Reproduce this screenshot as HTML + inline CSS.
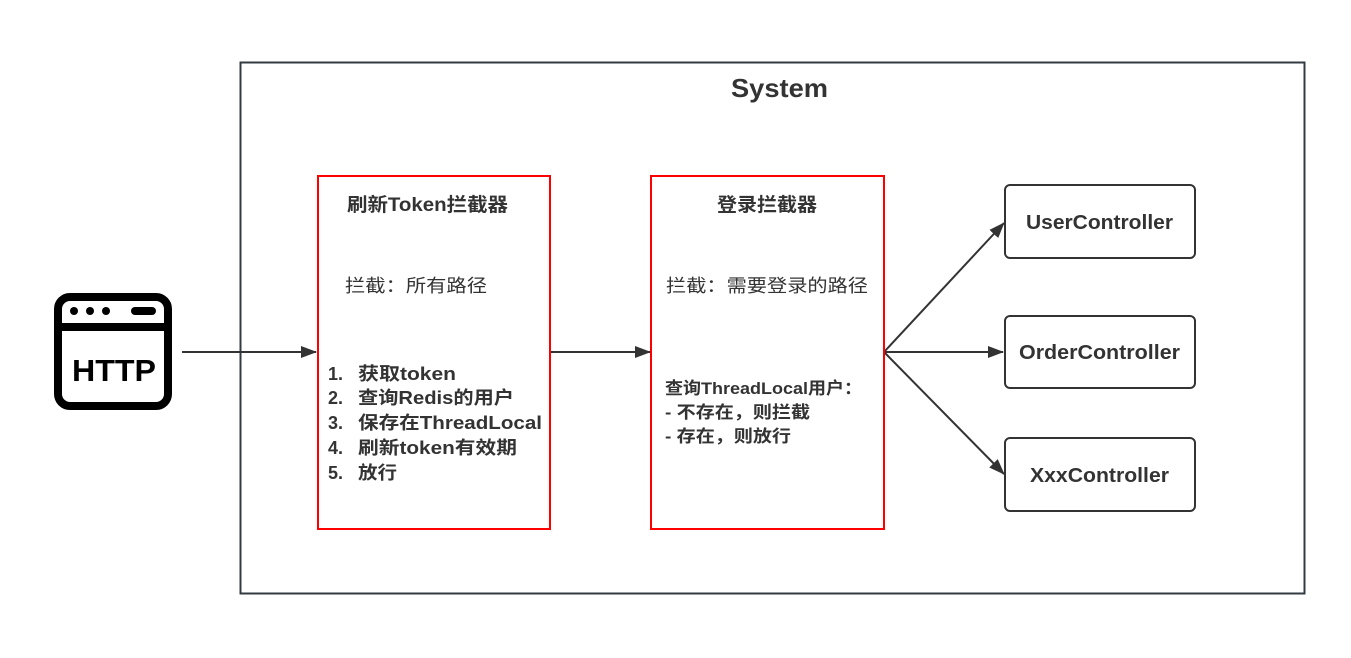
<!DOCTYPE html>
<html><head><meta charset="utf-8"><style>
html,body{margin:0;padding:0;background:#fff;}
svg{display:block;font-family:"Liberation Sans","Noto Sans CJK SC",sans-serif;}
</style></head><body>
<svg width="1351" height="658" viewBox="0 0 1351 658" xmlns="http://www.w3.org/2000/svg">
<defs>
<marker id="b" markerWidth="16" markerHeight="12" refX="15" refY="6" orient="auto" markerUnits="userSpaceOnUse"><path d="M0,0 L16,6 L0,12 Z" fill="#333"/></marker></defs>
<rect x="240.5" y="62.5" width="1064" height="531" fill="none" stroke="#333a40" stroke-width="2"/>
<text x="731" y="97" textLength="97" lengthAdjust="spacingAndGlyphs" font-size="26" font-weight="bold" fill="#333">System</text>
<!-- HTTP icon -->
<rect x="58" y="297" width="110" height="109" rx="12" fill="none" stroke="#000" stroke-width="8"/>
<line x1="58" y1="327" x2="168" y2="327" stroke="#000" stroke-width="8"/>
<circle cx="74" cy="311" r="4" fill="#000"/><circle cx="90" cy="311" r="4" fill="#000"/><circle cx="106" cy="311" r="4" fill="#000"/>
<rect x="131" y="307" width="25" height="8" rx="4" fill="#000"/>
<text x="72" y="381" textLength="84" lengthAdjust="spacingAndGlyphs" font-size="31" font-weight="bold" fill="#000">HTTP</text>
<!-- arrows -->
<line x1="182" y1="352" x2="316" y2="352" stroke="#333" stroke-width="2" marker-end="url(#b)"/>
<line x1="550" y1="352" x2="650" y2="352" stroke="#333" stroke-width="2" marker-end="url(#b)"/>
<line x1="884" y1="352" x2="1003" y2="352" stroke="#333" stroke-width="2" marker-end="url(#b)"/>
<line x1="884" y1="352" x2="1004" y2="223" stroke="#333" stroke-width="2" marker-end="url(#b)"/>
<line x1="884" y1="352" x2="1004" y2="474" stroke="#333" stroke-width="2" marker-end="url(#b)"/>
<!-- box1 -->
<rect x="318" y="176" width="232" height="353" fill="none" stroke="#f00" stroke-width="2"/>
<text x="347" y="211" textLength="161" lengthAdjust="spacingAndGlyphs" font-size="19" font-weight="bold" fill="#333">刷新Token拦截器</text>
<text x="345" y="292" textLength="142" lengthAdjust="spacingAndGlyphs" font-size="18" fill="#333">拦截：所有路径</text>
<g font-size="18" font-weight="bold" fill="#333">
<text x="328" y="380">1.</text><text x="358" y="380" textLength="98" lengthAdjust="spacingAndGlyphs">获取token</text>
<text x="328" y="404">2.</text><text x="358" y="404" textLength="156" lengthAdjust="spacingAndGlyphs">查询Redis的用户</text>
<text x="328" y="429">3.</text><text x="358" y="429" textLength="184" lengthAdjust="spacingAndGlyphs">保存在ThreadLocal</text>
<text x="328" y="454">4.</text><text x="358" y="454" textLength="159" lengthAdjust="spacingAndGlyphs">刷新token有效期</text>
<text x="328" y="479">5.</text><text x="358" y="479" textLength="39" lengthAdjust="spacingAndGlyphs">放行</text>
</g>
<!-- box2 -->
<rect x="651" y="176" width="233" height="353" fill="none" stroke="#f00" stroke-width="2"/>
<text x="717" y="211" textLength="100" lengthAdjust="spacingAndGlyphs" font-size="19" font-weight="bold" fill="#333">登录拦截器</text>
<text x="666" y="292" textLength="202" lengthAdjust="spacingAndGlyphs" font-size="18" fill="#333">拦截：需要登录的路径</text>
<g font-size="17" font-weight="bold" fill="#333">
<text x="665" y="394" textLength="197" lengthAdjust="spacingAndGlyphs">查询ThreadLocal用户：</text>
<text x="665" y="418" textLength="145" lengthAdjust="spacingAndGlyphs">- 不存在，则拦截</text>
<text x="665" y="442" textLength="126" lengthAdjust="spacingAndGlyphs">- 存在，则放行</text>
</g>
<!-- controllers -->
<g fill="none" stroke="#333" stroke-width="2">
<rect x="1005" y="185" width="190" height="73" rx="5"/>
<rect x="1005" y="316" width="190" height="72" rx="5"/>
<rect x="1005" y="438" width="190" height="73" rx="5"/>
</g>
<g font-size="20" font-weight="bold" fill="#333">
<text x="1026" y="229" textLength="147" lengthAdjust="spacingAndGlyphs">UserController</text>
<text x="1019" y="359" textLength="161" lengthAdjust="spacingAndGlyphs">OrderController</text>
<text x="1030" y="482" textLength="139" lengthAdjust="spacingAndGlyphs">XxxController</text>
</g>
</svg>
</body></html>
